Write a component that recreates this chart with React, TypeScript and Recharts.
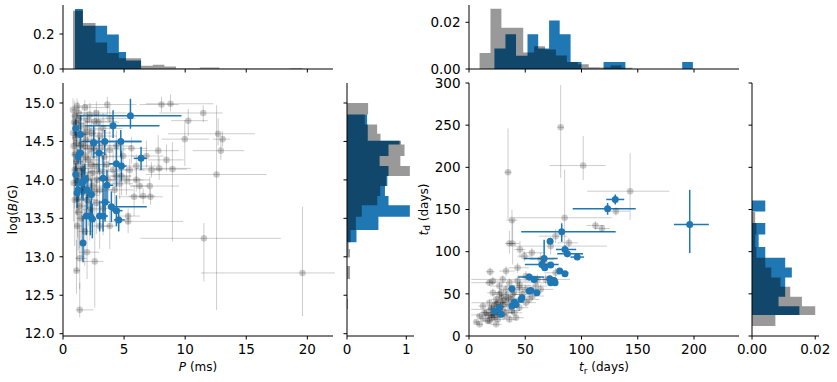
import React from 'react'
import {
  ScatterChart,
  Scatter,
  ComposedChart,
  Area,
  XAxis,
  YAxis,
  ErrorBar,
  Label,
} from 'recharts'

const BLUE = '#1f77b4'

// axis ranges and ticks
const pDomain = [0, 22.1]
const pTicks = [0, 5, 10, 15, 20]
const bDomain = [11.97, 15.26]
const bTicks = [12, 12.5, 13, 13.5, 14, 14.5, 15]
const trDomain = [0, 240]
const trTicks = [0, 50, 100, 150, 200]
const tdDomain = [0, 300]
const tdTicks = [0, 50, 100, 150, 200, 250, 300]

// histogram of P (ms): bin edges + density
const pEdgesGray = [0.82, 1.63, 2.66, 3.61, 4.57, 6.39, 7.35, 8.3, 9.25, 11.2, 12.8, 18.6, 19.6]
const pValsGray = [0.333, 0.263, 0.152, 0.091, 0.062, 0.019, 0.024, 0.015, 0.003, 0.009, 0.001, 0.004]
const pEdgesBlue = [0.98, 1.63, 2.66, 3.61, 4.57, 5.16, 6.39]
const pValsBlue = [0.343, 0.247, 0.247, 0.198, 0.097, 0.049]

// histogram of log(B/G)
const bEdgesGray = [12.32, 12.45, 12.71, 12.88, 12.99, 13.1, 13.19, 13.35, 13.52, 13.67, 13.79, 13.92, 14.05, 14.18, 14.31, 14.46, 14.51, 14.6, 14.72, 14.85, 15.0]
const bValsGray = [0.015, 0, 0.05, 0, 0.05, 0.03, 0.06, 0.15, 0.25, 0.51, 0.56, 0.66, 1.06, 0.9, 0.97, 0.91, 0.565, 0.508, 0.3, 0.356]
const bEdgesBlue = [13.19, 13.35, 13.52, 13.67, 13.79, 13.92, 14.05, 14.18, 14.31, 14.46, 14.51, 14.6, 14.72, 14.85]
const bValsBlue = [0.16, 0.53, 1.06, 0.7, 0.64, 0.68, 0.7, 0.55, 0.7, 0.887, 0.35, 0.35, 0.339]

// histogram of t_r (days)
const trEdgesGray = [9.4, 19.1, 28.8, 38.5, 48.2, 57.9, 67.6, 77.3, 87, 96.7, 106.4, 116.1, 125.8, 135.5, 145.2]
const trValsGray = [0.0069, 0.0258, 0.0177, 0.0177, 0.0071, 0.0097, 0.0083, 0.0058, 0.003, 0.002, 0.0008, 0.0006, 0.0015, 0.0005]
const trEdgesBlue = [22.6, 32.4, 41.8, 52, 61.5, 71.2, 80.6, 90.3, 100, 119.6, 139, 189.5, 199]
const trValsBlue = [0.0088, 0.0149, 0.0057, 0.0149, 0.0088, 0.0208, 0.0149, 0.003, 0, 0.003, 0, 0.003]

// histogram of t_d (days)
const tdEdgesGray = [11.8, 24.8, 35.4, 46.5, 58.3, 69.3, 81.1, 92.9, 105.5, 120.5, 134, 147]
const tdValsGray = [0.0074, 0.02, 0.0158, 0.0121, 0.009, 0.0061, 0.0042, 0.0014, 0.001, 0.0014, 0.001]
const tdEdgesBlue = [24.8, 35.4, 46.5, 58.3, 69.3, 81.1, 92.9, 105.5, 120.5, 134, 147.6, 160.6]
const tdValsBlue = [0.015, 0.0084, 0.0105, 0.0105, 0.0126, 0.0105, 0.0042, 0.0021, 0.0042, 0, 0.0042]

// points: [x, y, x-err low, x-err high, y-err low, y-err high]
const pbGray = [
  [8.06, 14.98, 1.8, 1.4, 0.1, 0.1], [8.8, 14.99, 2.0, 3.5, 0.1, 0.12], [11.48, 14.87, 3.6, 1.6, 0.12, 0.1],
  [10.25, 14.77, 1.4, 1.6, 0.2, 0.15], [9.97, 14.53, 1.9, 2.0, 0.35, 0.25], [12.7, 14.6, 4.1, 3.0, 0.15, 0.2],
  [13.06, 14.53, 0.8, 0.6, 0.1, 0.1], [12.92, 14.38, 2.3, 1.9, 0.12, 0.15], [11.53, 13.24, 5.2, 6.3, 0.56, 0.2],
  [12.57, 14.07, 5.8, 4.1, 1.76, 0.9], [19.6, 12.79, 8.3, 3.0, 0.56, 0.86], [7.79, 14.38, 1.3, 1.7, 0.2, 0.2],
  [8.47, 14.26, 1.5, 1.4, 0.15, 0.2], [8.96, 14.14, 1.5, 1.2, 0.94, 0.35], [7.87, 14.15, 1.9, 2.6, 0.15, 0.15],
  [7.1, 13.92, 1.6, 2.4, 0.12, 0.12], [7.16, 13.78, 1.0, 1.0, 0.1, 0.1], [6.56, 13.79, 1.2, 1.0, 0.1, 0.1],
  [5.82, 13.78, 1.3, 1.1, 0.25, 0.15], [5.33, 13.53, 0.9, 1.0, 0.1, 0.1], [5.33, 13.46, 2.3, 4.5, 0.15, 0.1],
  [3.83, 13.4, 0.6, 0.8, 0.3, 0.2], [2.6, 12.94, 1.0, 0.7, 0.6, 0.55], [1.37, 12.31, 0.3, 1.1, 0.1, 0.35],
  [1.1, 12.82, 0.2, 0.3, 0.3, 0.4], [1.37, 12.98, 0.4, 0.6, 0.4, 0.4], [1.97, 13.06, 0.7, 1.0, 0.35, 0.25],
  [6.0, 14.0, 0.9, 1.1, 0.15, 0.15], [6.28, 13.92, 0.8, 0.7, 0.15, 0.1], [6.0, 14.18, 1.0, 1.6, 0.2, 0.15],
  [6.83, 14.31, 1.2, 1.4, 0.15, 0.2], [7.24, 14.13, 1.0, 0.9, 0.1, 0.1], [5.19, 14.0, 1.1, 1.4, 0.2, 0.2],
  [5.46, 14.13, 1.0, 1.2, 0.2, 0.15], [4.78, 14.05, 0.9, 0.8, 0.25, 0.2], [4.92, 14.31, 1.2, 1.0, 0.15, 0.2],
  [5.6, 14.41, 1.6, 1.3, 0.2, 0.15], [4.37, 14.44, 1.0, 1.3, 0.25, 0.2], [3.63, 14.98, 2.0, 2.4, 0.15, 0.1],
  [2.73, 14.87, 1.4, 2.5, 0.15, 0.15], [1.78, 14.94, 0.7, 2.0, 0.1, 0.1], [1.15, 14.96, 0.3, 1.2, 0.15, 0.1],
  [0.82, 14.91, 0.1, 0.6, 0.2, 0.15], [0.96, 14.83, 0.2, 0.8, 0.25, 0.2], [1.09, 14.74, 0.2, 0.7, 0.3, 0.2],
  [1.97, 14.78, 0.6, 1.5, 0.2, 0.2], [2.6, 14.76, 0.8, 1.8, 0.2, 0.15], [0.82, 14.61, 0.1, 0.5, 0.3, 0.25],
  [1.5, 14.7, 0.4, 0.9, 0.35, 0.2], [2.32, 14.61, 0.7, 1.6, 0.3, 0.2], [3.0, 14.57, 1.0, 1.4, 0.25, 0.2],
  [3.83, 14.39, 1.0, 1.3, 0.2, 0.25], [1.78, 14.44, 0.6, 1.2, 0.4, 0.3], [0.87, 14.44, 0.1, 0.5, 0.35, 0.3],
  [1.09, 14.24, 0.2, 0.6, 0.45, 0.35], [2.05, 14.26, 0.7, 1.0, 0.35, 0.3], [2.73, 14.18, 0.9, 1.2, 0.3, 0.25],
  [3.55, 14.2, 1.1, 1.3, 0.3, 0.2], [4.1, 14.13, 0.9, 1.5, 0.25, 0.25], [0.96, 14.13, 0.2, 0.5, 0.5, 0.3],
  [1.64, 14.15, 0.5, 0.9, 0.4, 0.35], [2.4, 14.09, 0.8, 1.1, 0.35, 0.3], [3.0, 14.11, 0.9, 1.6, 0.3, 0.3],
  [0.87, 13.96, 0.1, 0.4, 0.5, 0.4], [2.46, 13.92, 0.8, 1.2, 0.4, 0.3], [3.0, 13.87, 0.8, 1.1, 0.35, 0.3],
  [4.23, 13.87, 1.0, 1.5, 0.3, 0.25], [1.97, 13.74, 0.6, 0.9, 0.45, 0.35], [2.73, 13.7, 0.8, 1.0, 0.4, 0.3],
  [3.28, 13.63, 0.9, 1.3, 0.35, 0.3], [1.37, 13.66, 0.3, 0.7, 0.55, 0.4], [2.19, 13.61, 0.6, 0.9, 0.4, 0.35],
  [1.5, 13.5, 0.4, 0.6, 0.5, 0.35], [3.0, 13.4, 0.8, 0.9, 0.3, 0.3], [1.78, 13.33, 0.5, 0.7, 0.45, 0.35],
  [1.15, 13.4, 0.2, 0.5, 0.6, 0.45], [0.96, 13.74, 0.1, 0.4, 0.6, 0.4], [4.37, 14.05, 1.1, 1.2, 0.2, 0.2],
  [4.64, 13.95, 0.9, 1.1, 0.2, 0.2], [1.09, 14.48, 0.2, 0.6, 0.4, 0.3], [2.6, 14.41, 0.9, 1.3, 0.3, 0.25],
  [3.28, 14.67, 1.1, 1.6, 0.2, 0.2], [1.31, 14.59, 0.3, 0.9, 0.35, 0.25], [1.86, 14.52, 0.6, 1.1, 0.3, 0.25],
  [0.96, 14.33, 0.2, 0.5, 0.45, 0.35], [3.83, 14.8, 1.3, 2.1, 0.15, 0.15], [2.05, 14.02, 0.6, 0.9, 0.4, 0.35],
  [1.5, 13.85, 0.4, 0.7, 0.5, 0.4], [1.23, 14.87, 0.3, 0.8, 0.2, 0.15], [1.2, 14.15, 0.3, 0.7, 0.4, 0.3],
  [1.4, 14.35, 0.3, 0.8, 0.35, 0.3], [1.7, 14.6, 0.5, 1.0, 0.3, 0.25], [2.2, 14.85, 0.6, 1.4, 0.2, 0.15],
  [1.3, 14.05, 0.3, 0.6, 0.45, 0.35], [1.6, 13.9, 0.4, 0.8, 0.45, 0.35], [2.1, 13.8, 0.6, 0.9, 0.4, 0.35],
  [1.0, 14.55, 0.2, 0.5, 0.35, 0.3], [2.5, 14.5, 0.8, 1.4, 0.3, 0.25], [1.25, 13.58, 0.3, 0.6, 0.5, 0.4],
  [1.15, 14.62, 0.2, 0.6, 0.3, 0.25], [1.45, 14.45, 0.3, 0.8, 0.35, 0.3], [1.85, 14.3, 0.5, 1.0, 0.35, 0.3],
  [2.3, 14.2, 0.7, 1.2, 0.3, 0.3], [1.1, 14.0, 0.2, 0.5, 0.45, 0.35], [1.55, 14.1, 0.4, 0.8, 0.4, 0.35],
  [2.8, 14.0, 0.8, 1.3, 0.35, 0.3], [3.4, 14.3, 1.0, 1.5, 0.25, 0.2], [2.0, 14.65, 0.6, 1.3, 0.25, 0.2],
  [1.3, 14.8, 0.3, 1.0, 0.2, 0.15], [2.9, 14.75, 1.0, 1.7, 0.2, 0.15], [1.7, 14.0, 0.4, 0.8, 0.4, 0.3],
  [2.6, 13.85, 0.7, 1.0, 0.4, 0.3], [3.7, 14.0, 1.0, 1.2, 0.3, 0.25], [1.2, 13.75, 0.2, 0.6, 0.5, 0.4],
  [2.2, 14.4, 0.6, 1.2, 0.3, 0.25], [0.9, 14.75, 0.1, 0.5, 0.3, 0.2], [3.2, 14.45, 1.0, 1.5, 0.25, 0.2],
]

const pbBlue = [
  [5.52, 14.835, 4.15, 4.18, 0.17, 0.22], [4.1, 14.705, 2.3, 3.8, 0.16, 0.2], [1.04, 14.67, 0.15, 0.3, 0.12, 0.12],
  [1.42, 14.59, 0.2, 0.4, 0.15, 0.25], [3.42, 14.5, 2.05, 3.0, 0.18, 0.15], [4.73, 14.5, 2.3, 1.7, 0.2, 0.15],
  [2.51, 14.48, 0.3, 0.4, 0.2, 0.22], [2.95, 14.35, 0.5, 0.5, 0.25, 0.2], [1.42, 14.35, 0.3, 0.3, 0.15, 0.15],
  [1.23, 14.3, 0.15, 0.2, 0.1, 0.1], [6.39, 14.28, 0.6, 0.45, 0.15, 0.15], [4.37, 14.21, 0.6, 0.6, 0.3, 0.3],
  [4.78, 14.18, 0.4, 0.4, 0.2, 0.2], [1.04, 14.07, 0.1, 0.15, 0.15, 0.15], [3.28, 14.02, 0.4, 0.4, 0.3, 0.3],
  [1.78, 14.01, 0.2, 0.3, 0.2, 0.2], [1.64, 13.98, 0.2, 0.2, 0.25, 0.2], [1.53, 13.96, 0.2, 0.2, 0.2, 0.2],
  [3.6, 13.93, 0.3, 0.5, 0.2, 0.2], [1.23, 13.87, 0.15, 0.2, 0.15, 0.15], [1.97, 13.87, 0.3, 0.3, 0.25, 0.2],
  [2.32, 13.81, 0.3, 0.3, 0.25, 0.2], [3.96, 13.65, 0.3, 2.9, 0.2, 0.2], [3.44, 13.71, 0.4, 0.4, 0.25, 0.2],
  [4.37, 13.6, 0.4, 0.5, 0.2, 0.2], [1.91, 13.53, 0.2, 0.3, 0.25, 0.25], [2.24, 13.53, 0.3, 0.3, 0.25, 0.2],
  [3.0, 13.53, 0.3, 0.3, 0.2, 0.2], [3.28, 13.53, 0.3, 0.4, 0.2, 0.2], [4.56, 13.48, 0.4, 0.5, 0.15, 0.15],
  [2.4, 13.49, 0.3, 0.3, 0.25, 0.2], [1.64, 13.18, 0.2, 0.2, 0.25, 0.35], [1.15, 13.83, 0.1, 0.2, 0.2, 0.2],
]

const tGray = [
  [81.5, 247.5, 3, 3, 60, 50], [101.5, 202.1, 30, 20, 17, 35], [34.7, 194.2, 3, 3, 56, 52],
  [143.2, 171.7, 38, 35, 34, 45], [85, 140.2, 45, 42, 40, 57], [38.2, 137.4, 5, 5, 25, 12],
  [112.4, 131.1, 8, 8, 5, 5], [118.2, 127.5, 7, 7, 4, 4], [130.6, 148, 10, 12, 5, 5],
  [38.8, 109.7, 5, 6, 25, 28], [35.9, 109.7, 4, 5, 12, 15], [45.3, 102.6, 5, 5, 10, 10],
  [55.9, 98.7, 8, 12, 8, 6], [88.8, 110.5, 10, 8, 6, 6], [77, 118.4, 15, 10, 8, 8],
  [72.6, 106.6, 32, 50, 10, 10], [49.1, 94.7, 6, 6, 6, 6], [63.8, 90.8, 10, 12, 8, 8],
  [68.2, 84.9, 9, 10, 6, 6], [18.8, 76.2, 4, 4, 5, 5], [21.2, 65.1, 5, 6, 5, 5],
  [32.9, 77, 6, 8, 6, 6], [43.2, 80.9, 8, 10, 6, 6], [50.6, 71.1, 8, 10, 6, 6],
  [30, 67.1, 28, 60, 5, 5], [35.9, 63.2, 34, 40, 5, 5], [27.1, 59.2, 8, 10, 5, 5],
  [43.2, 65.1, 7, 12, 5, 5], [18.2, 63.2, 4, 5, 4, 4], [21.2, 51.3, 5, 6, 5, 5],
  [28.5, 51.3, 6, 7, 5, 5], [32.9, 47.4, 6, 8, 5, 5], [38.8, 49.3, 7, 9, 5, 5],
  [44.7, 57.2, 8, 10, 6, 6], [24.1, 43.4, 5, 6, 4, 4], [30, 41.5, 6, 7, 4, 4],
  [35.9, 35.5, 6, 7, 4, 4], [18.2, 39.5, 16, 15, 4, 4], [12.4, 35.5, 4, 5, 4, 4],
  [15.3, 27.6, 4, 5, 3, 3], [21.2, 27.6, 5, 5, 3, 3], [27.1, 25.7, 5, 6, 3, 3],
  [32.9, 27.6, 6, 7, 3, 3], [12.4, 20.5, 3, 4, 3, 3], [9.4, 13.8, 3, 3, 2, 2],
  [16.8, 17.8, 4, 4, 3, 3], [22.6, 21.7, 5, 5, 3, 3], [30, 31.6, 28, 10, 4, 4],
  [40.3, 27.6, 6, 7, 3, 3], [44.7, 33.6, 7, 8, 4, 4], [50.6, 39.5, 8, 9, 5, 5],
  [56.5, 47.4, 8, 10, 5, 5], [63.8, 55.3, 9, 11, 6, 6], [60.9, 67.1, 9, 10, 6, 6],
  [77, 75, 10, 12, 6, 6], [68.2, 67.1, 9, 11, 6, 6], [27.1, 49.3, 6, 7, 5, 5],
  [22.6, 35.5, 5, 6, 4, 4], [31.5, 23.7, 6, 6, 3, 3], [18.2, 17.8, 4, 4, 3, 3],
  [13.8, 27.6, 4, 4, 3, 3], [25.6, 19.7, 5, 5, 3, 3], [35.9, 19.7, 6, 6, 3, 3],
  [41.8, 21.7, 7, 7, 3, 3], [9.4, 23.7, 3, 3, 3, 3], [19.7, 31.6, 4, 5, 4, 4],
  [25.6, 39.5, 5, 6, 4, 4], [37.4, 43.4, 6, 7, 5, 5], [32.9, 55.3, 6, 8, 5, 5],
  [47.1, 49.3, 7, 9, 5, 5], [53.5, 43.4, 8, 9, 5, 5], [59.4, 59.2, 9, 10, 6, 6],
  [6.5, 16.6, 2, 3, 2, 2], [24.1, 13.8, 5, 5, 2, 2], [20, 25, 18, 8, 3, 3],
  [25, 30, 5, 5, 3, 3], [28, 35, 6, 6, 4, 4], [33, 40, 6, 7, 4, 4],
  [20, 22, 4, 4, 3, 3], [23, 25, 5, 5, 3, 3], [26, 28, 5, 6, 3, 3],
  [30, 37, 6, 7, 4, 4], [35, 45, 7, 8, 5, 5], [40, 52, 7, 9, 5, 5],
  [17, 24, 4, 4, 3, 3], [29, 45, 6, 7, 5, 5], [24, 38, 5, 6, 4, 4],
  [45, 60, 8, 10, 6, 6], [50, 55, 8, 9, 6, 6], [38, 30, 7, 7, 3, 3], [20, 33, 4, 5, 4, 4],
]

const tBlue = [
  [196.2, 132.3, 14, 17, 34, 41], [130, 161.9, 8, 8, 6, 6], [123.2, 150.8, 31, 25, 7, 7],
  [82.4, 123.6, 36, 48, 12, 10], [72.1, 112.5, 0, 0, 0, 0], [85.3, 102.6, 8, 10, 5, 5],
  [87.4, 97.5, 9, 14, 4, 4], [96.2, 93.6, 6, 6, 3, 3], [66.8, 92, 18, 12, 12, 22],
  [64.7, 84.9, 15, 15, 5, 5], [72.6, 84.1, 0, 0, 0, 0], [67.4, 80.9, 0, 0, 0, 0],
  [80.6, 77, 0, 0, 0, 0], [85.3, 73.8, 0, 0, 0, 0], [71.8, 67.9, 0, 0, 0, 0],
  [75.6, 65.9, 0, 0, 0, 0], [72.6, 63.2, 0, 0, 0, 0], [76.5, 63.2, 0, 0, 0, 0],
  [53.5, 69.9, 10, 13, 4, 4], [57.9, 67.1, 4, 4, 4, 4], [53.5, 53.3, 3, 3, 3, 3],
  [60.3, 51.3, 0, 0, 0, 0], [55, 54, 0, 0, 0, 0], [38.2, 56.1, 3, 3, 3, 3],
  [47.1, 45.4, 0, 0, 0, 0], [46.2, 43.4, 0, 0, 0, 0], [40.3, 40.3, 0, 0, 0, 0],
  [38.2, 35.5, 0, 0, 0, 0], [41.8, 37.5, 0, 0, 0, 0], [27.1, 33.6, 0, 0, 0, 0],
  [22.6, 29.6, 0, 0, 0, 0], [28.5, 25.7, 0, 0, 0, 0],
]

function toPts(rows: number[][]) {
  return rows.map(([x, y, xl, xh, yl, yh]) => ({ x, y, ex: [xl, xh], ey: [yl, yh] }))
}

function binValue(edges: number[], vals: number[], at: number) {
  for (let i = 0; i < vals.length; i++) {
    if (at >= edges[i] && at < edges[i + 1]) return vals[i]
  }
  return 0
}

// merge two step histograms onto shared edges
function histTable(gE: number[], gV: number[], bE: number[], bV: number[], k: string) {
  const all = Array.from(new Set([...gE, ...bE])).sort((a, b) => a - b)
  return all.map(e => ({ [k]: e, g: binValue(gE, gV, e), b: binValue(bE, bV, e) }))
}

const pHist = histTable(pEdgesGray, pValsGray, pEdgesBlue, pValsBlue, 'x')
const bHist = histTable(bEdgesGray, bValsGray, bEdgesBlue, bValsBlue, 'y')
const trHist = histTable(trEdgesGray, trValsGray, trEdgesBlue, trValsBlue, 'x')
const tdHist = histTable(tdEdgesGray, tdValsGray, tdEdgesBlue, tdValsBlue, 'y')

const axisCommon = {
  type: 'number' as const,
  tickSize: 3.5,
  tickMargin: 5,
  interval: 0 as const,
  tick: { fill: '#000', fontSize: 13.5 },
  axisLine: { stroke: '#000' },
  tickLine: { stroke: '#000' },
  allowDataOverflow: true,
}

const blank = () => ''

function frameAxes(xd: number[], yd: number[]) {
  return [
    <XAxis key="ft" xAxisId="ft" orientation="top" type="number" domain={xd} height={0}
      tick={false} tickLine={false} axisLine={{ stroke: '#000' }} allowDataOverflow />,
    <YAxis key="fr" yAxisId="fr" orientation="right" type="number" domain={yd} width={0}
      tick={false} tickLine={false} axisLine={{ stroke: '#000' }} allowDataOverflow />,
  ]
}

const grayDot = (p: any) => <circle cx={p.cx} cy={p.cy} r={3.3} fill="#000" fillOpacity={0.2} />
const blueDot = (p: any) => <circle cx={p.cx} cy={p.cy} r={3.5} fill={BLUE} />

function xLabel(parts: React.ReactNode) {
  return (p: any) => {
    const vb = p.viewBox
    return (
      <text x={vb.x + vb.width / 2} y={vb.y + 35} textAnchor="middle" fontSize={12} fill="#000">
        {parts}
      </text>
    )
  }
}

function yLabel(parts: React.ReactNode, dx: number) {
  return (p: any) => {
    const vb = p.viewBox
    return (
      <text transform={`translate(${vb.x + dx},${vb.y + vb.height / 2}) rotate(-90)`}
        textAnchor="middle" dominantBaseline="central" fontSize={12} fill="#000">
        {parts}
      </text>
    )
  }
}

function errBars(color: string, w: number) {
  return [
    <ErrorBar key="ex" dataKey="ex" direction="x" width={0} stroke={color} strokeWidth={w} isAnimationActive={false} />,
    <ErrorBar key="ey" dataKey="ey" direction="y" width={0} stroke={color} strokeWidth={w} isAnimationActive={false} />,
  ]
}

function Panel(props: {
  left: number
  hTop: any[]; hSide: any[]
  xd: number[]; xt: number[]; yd: number[]; yt: number[]
  topMax: number; topTicks: number[]; topFmt: (v: number) => string
  sideMax: number; sideTicks: number[]; sideFmt: (v: number) => string
  yFmt: (v: number) => string
  yAxisW: number; yLabelDx: number
  xLab: React.ReactNode; yLab: React.ReactNode
  gray: any[]; blue: any[]
  sideLeft: number; sideRight: number
}) {
  const w = props.yAxisW + 270 + 2
  return (
    <>
      <div style={{ position: 'absolute', left: props.left, top: 0 }}>
        <ComposedChart width={w} height={80} data={props.hTop} margin={{ top: 5, right: 2, left: 0, bottom: 0 }}>
          <XAxis dataKey="x" {...axisCommon} domain={props.xd} ticks={props.xt} height={11} tickFormatter={blank} />
          <YAxis {...axisCommon} domain={[0, props.topMax]} ticks={props.topTicks} width={props.yAxisW} tickFormatter={props.topFmt} />
          {frameAxes(props.xd, [0, props.topMax])}
          <Area dataKey="b" type="stepAfter" stroke="none" fill={BLUE} fillOpacity={1} isAnimationActive={false} dot={false} activeDot={false} />
          <Area dataKey="g" type="stepAfter" stroke="none" fill="#000" fillOpacity={0.4} isAnimationActive={false} dot={false} activeDot={false} />
        </ComposedChart>
      </div>
      <div style={{ position: 'absolute', left: props.left, top: 75 }}>
        <ScatterChart width={w} height={306} margin={{ top: 8, right: 2, left: 0, bottom: 0 }}>
          <XAxis dataKey="x" {...axisCommon} domain={props.xd} ticks={props.xt} height={45}>
            <Label content={xLabel(props.xLab)} />
          </XAxis>
          <YAxis dataKey="y" {...axisCommon} domain={props.yd} ticks={props.yt} width={props.yAxisW} tickFormatter={props.yFmt}>
            <Label content={yLabel(props.yLab, props.yLabelDx)} />
          </YAxis>
          {frameAxes(props.xd, props.yd)}
          <Scatter data={props.gray} shape={grayDot} isAnimationActive={false}>
            {errBars('rgba(0,0,0,0.2)', 1)}
          </Scatter>
          <Scatter data={props.blue} shape={blueDot} isAnimationActive={false}>
            {errBars(BLUE, 1.5)}
          </Scatter>
        </ScatterChart>
      </div>
      <div style={{ position: 'absolute', left: props.sideLeft - 15, top: 75 }}>
        <ComposedChart layout="vertical" width={15 + 7 + 67 + props.sideRight} height={306} data={props.hSide}
          margin={{ top: 8, right: props.sideRight, left: 15, bottom: 0 }}>
          <XAxis {...axisCommon} domain={[0, props.sideMax]} ticks={props.sideTicks} height={45} tickFormatter={props.sideFmt} />
          <YAxis dataKey="y" {...axisCommon} reversed domain={props.yd} ticks={props.yt} width={7} tickFormatter={blank} />
          {frameAxes([0, props.sideMax], props.yd)}
          <Area dataKey="b" type="stepBefore" stroke="none" fill={BLUE} fillOpacity={1} isAnimationActive={false} dot={false} activeDot={false} />
          <Area dataKey="g" type="stepBefore" stroke="none" fill="#000" fillOpacity={0.4} isAnimationActive={false} dot={false} activeDot={false} />
        </ComposedChart>
      </div>
    </>
  )
}

export default function App() {
  return (
    <div style={{ position: 'absolute', left: 0, top: 0, width: 837, height: 382, background: '#fff', fontFamily: 'DejaVu Sans, sans-serif' }}>
      <Panel
        left={0}
        hTop={pHist} hSide={bHist}
        xd={pDomain} xt={pTicks} yd={bDomain} yt={bTicks}
        topMax={0.366} topTicks={[0, 0.2]} topFmt={v => v.toFixed(1)}
        sideMax={1.13} sideTicks={[0, 1]} sideFmt={v => String(v)}
        yFmt={v => v.toFixed(1)}
        yAxisW={63} yLabelDx={12.5}
        xLab={<><tspan fontStyle="italic">P</tspan> (ms)</>}
        yLab={<>log(<tspan fontStyle="italic">B</tspan>/G)</>}
        gray={toPts(pbGray)} blue={toPts(pbBlue)}
        sideLeft={340} sideRight={3}
      />
      <Panel
        left={400}
        hTop={trHist} hSide={tdHist}
        xd={trDomain} xt={trTicks} yd={tdDomain} yt={tdTicks}
        topMax={0.0274} topTicks={[0, 0.02]} topFmt={v => v.toFixed(2)}
        sideMax={0.0212} sideTicks={[0, 0.02]} sideFmt={v => v.toFixed(2)}
        yFmt={v => String(v)}
        yAxisW={69} yLabelDx={23.5}
        xLab={<><tspan fontStyle="italic">t</tspan><tspan fontSize={9} dy={3}>r</tspan><tspan dy={-3}> (days)</tspan></>}
        yLab={<><tspan fontStyle="italic">t</tspan><tspan fontSize={9} dy={3}>d</tspan><tspan dy={-3}> (days)</tspan></>}
        gray={toPts(tGray)} blue={toPts(tBlue)}
        sideLeft={745} sideRight={16}
      />
    </div>
  )
}
